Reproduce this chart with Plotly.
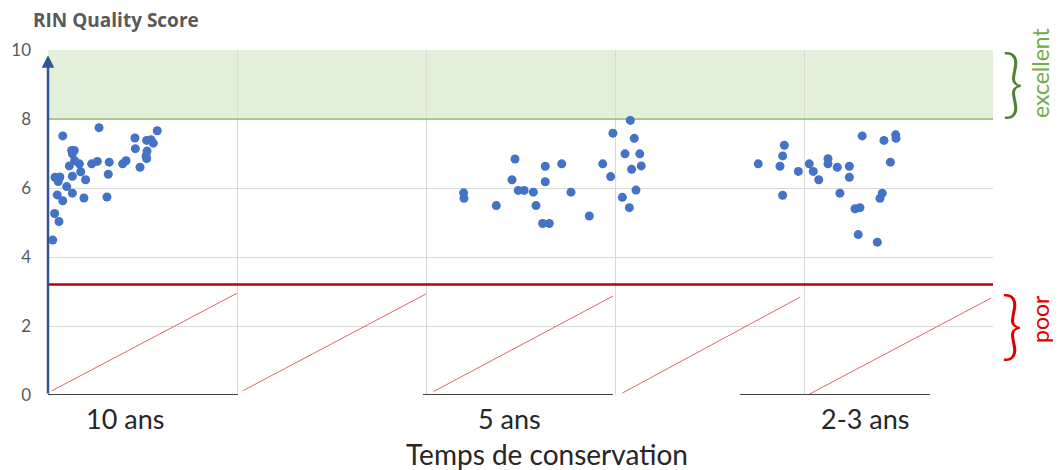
import plotly.graph_objects as go

# ---- data ----
group_labels = ["10 ans", "5 ans", "2-3 ans"]
label_pos = [0.407, 2.444, 4.323]

x_10 = [0.270, 0.078, 0.578, 0.460, 0.522, 0.545, 0.557, 0.125, 0.139, 0.129,
        0.462, 0.524, 0.519, 0.522, 0.141, 0.166, 0.113, 0.231, 0.261, 0.324,
        0.395, 0.413, 0.487, 0.173, 0.129, 0.319, 0.199, 0.037, 0.063, 0.054,
        0.099, 0.049, 0.129, 0.078, 0.190, 0.312, 0.035, 0.058, 0.025]
y_10 = [7.75, 7.51, 7.66, 7.45, 7.38, 7.40, 7.30, 7.09, 7.09, 6.99,
        7.14, 7.07, 6.93, 6.85, 6.79, 6.70, 6.64, 6.70, 6.77, 6.75,
        6.70, 6.79, 6.60, 6.47, 6.34, 6.40, 6.24, 6.31, 6.32, 6.19,
        6.04, 5.80, 5.85, 5.63, 5.71, 5.74, 5.26, 5.03, 4.49]

x_5 = [3.081, 2.989, 3.102, 3.053, 3.131, 2.471, 2.935, 2.718, 2.631, 3.139,
       3.088, 2.977, 2.455, 2.631, 2.488, 2.519, 2.568, 2.767, 3.111, 2.199,
       2.201, 3.039, 2.372, 2.582, 3.076, 2.864, 2.617, 2.652]
y_5 = [7.96, 7.59, 7.44, 6.99, 6.99, 6.84, 6.70, 6.70, 6.63, 6.64,
       6.54, 6.33, 6.24, 6.18, 5.93, 5.93, 5.88, 5.88, 5.94, 5.86,
       5.70, 5.73, 5.49, 5.49, 5.43, 5.19, 4.97, 4.97]

x_23 = [4.308, 4.485, 4.487, 4.423, 3.896, 3.887, 3.758, 3.873, 4.127, 4.127,
        4.028, 4.457, 3.970, 4.049, 4.176, 4.240, 4.078, 4.240, 3.887, 4.190,
        4.414, 4.402, 4.270, 4.296, 4.287, 4.388]
y_23 = [7.51, 7.54, 7.44, 7.38, 7.24, 6.93, 6.70, 6.63, 6.85, 6.70,
        6.70, 6.75, 6.48, 6.48, 6.60, 6.63, 6.24, 6.31, 5.79, 5.85,
        5.85, 5.70, 5.40, 5.43, 4.65, 4.43]

excellent_range = [8, 10]
poor_threshold = 3.2
diag_x0 = [0.02, 1.03, 2.04, 3.04, 4.03]
diag_x1 = [1.00, 2.00, 2.99, 3.98, 4.99]
diag_y0 = [0.12, 0.12, 0.10, 0.06, 0.03]
diag_y1 = [2.95, 2.93, 2.87, 2.84, 2.81]
base_x0 = [0.0, 1.984, 3.661]
base_x1 = [1.005, 2.989, 4.667]

x_range = [0, 5]
y_range = [0, 10]
y_ticks = [0, 2, 4, 6, 8, 10]

FONT = "Lato"
W, H = 1053, 462  # page body has an 8px margin
fig = go.Figure()

# excellent band
fig.add_shape(type="rect", xref="x", yref="y", x0=x_range[0], x1=x_range[1],
              y0=excellent_range[0], y1=excellent_range[1],
              fillcolor="#E2EFDA", line=dict(width=0), layer="below")
fig.add_trace(go.Scatter(x=x_range, y=[excellent_range[0]] * 2, mode="lines",
                         line=dict(color="#70AD47", width=1.2), hoverinfo="skip"))

# diagonal hatch lines in poor zone
for a, b, c, d in zip(diag_x0, diag_x1, diag_y0, diag_y1):
    fig.add_trace(go.Scatter(x=[a, b], y=[c, d], mode="lines",
                             line=dict(color="#E06666", width=1), hoverinfo="skip"))

# poor threshold line
fig.add_trace(go.Scatter(x=x_range, y=[poor_threshold] * 2, mode="lines",
                         line=dict(color="#C00000", width=2.5), hoverinfo="skip"))

# dark base segments under groups
for a, b in zip(base_x0, base_x1):
    fig.add_trace(go.Scatter(x=[a, b], y=[0, 0], mode="lines",
                             line=dict(color="#404040", width=2.2), hoverinfo="skip"))

# points
for xs, ys in [(x_10, y_10), (x_5, y_5), (x_23, y_23)]:
    fig.add_trace(go.Scatter(x=xs, y=ys, mode="markers",
                             marker=dict(color="#4472C4", size=9)))


def px(xr):
    return (xr - 48) / 945


def py(yr):
    return (395 - yr) / 345


annotations = []
# y axis arrow
annotations.append(dict(x=0, y=9.85, ax=0, ay=0, xref="x", yref="y",
                        axref="x", ayref="y", showarrow=True, arrowhead=2,
                        arrowsize=1, arrowwidth=2.5, arrowcolor="#2F5597", text=""))
# group labels
for lab, pos in zip(group_labels, label_pos):
    annotations.append(dict(x=pos, y=py(418), xref="x", yref="paper", text=lab,
                            showarrow=False, font=dict(family=FONT, size=27, color="#262626"),
                            xanchor="center", yanchor="middle"))
# x axis title
annotations.append(dict(x=px(547), y=py(454), xref="paper", yref="paper",
                        text="Temps de conservation", showarrow=False,
                        font=dict(family=FONT, size=28, color="#262626"),
                        xanchor="center", yanchor="middle"))
# braces and labels
annotations.append(dict(x=px(1013), y=py(80), xref="paper", yref="paper",
                        text="}", showarrow=False,
                        font=dict(family=FONT, size=74, color="#548235", weight=300),
                        xanchor="center", yanchor="middle"))
annotations.append(dict(x=px(1040), y=py(73), xref="paper", yref="paper",
                        text="excellent", showarrow=False, textangle=-90,
                        font=dict(family=FONT, size=23, color="#70AD47"),
                        xanchor="center", yanchor="middle"))
annotations.append(dict(x=px(1012), y=py(322), xref="paper", yref="paper",
                        text="}", showarrow=False,
                        font=dict(family=FONT, size=74, color="#E00000", weight=300),
                        xanchor="center", yanchor="middle"))
annotations.append(dict(x=px(1040), y=py(319), xref="paper", yref="paper",
                        text="poor", showarrow=False, textangle=-90,
                        font=dict(family=FONT, size=23, color="#E00000"),
                        xanchor="center", yanchor="middle"))

fig.update_layout(
    width=W, height=H,
    margin=dict(l=40, r=68, t=42, b=75),
    plot_bgcolor="white", paper_bgcolor="white",
    showlegend=False,
    title=dict(text="<b>RIN Quality Score</b>", x=(33 - 8) / W, y=1 - (20 - 8) / H,
               xanchor="left", yanchor="middle",
               font=dict(family="Open Sans", size=19, color="#595959")),
    xaxis=dict(range=x_range, tickvals=[0, 1, 2, 3, 4, 5], showticklabels=False,
               showgrid=True, gridcolor="#D9D9D9", gridwidth=1, zeroline=False,
               showline=False, ticks="", automargin=False),
    yaxis=dict(range=y_range, tickvals=y_ticks, showgrid=True, gridcolor="#D9D9D9",
               gridwidth=1, zeroline=False, showline=False, ticks="",
               ticklabelstandoff=16, automargin=False,
               tickfont=dict(family=FONT, size=17, color="#595959")),
    annotations=annotations,
)

fig.write_html("out.html")
